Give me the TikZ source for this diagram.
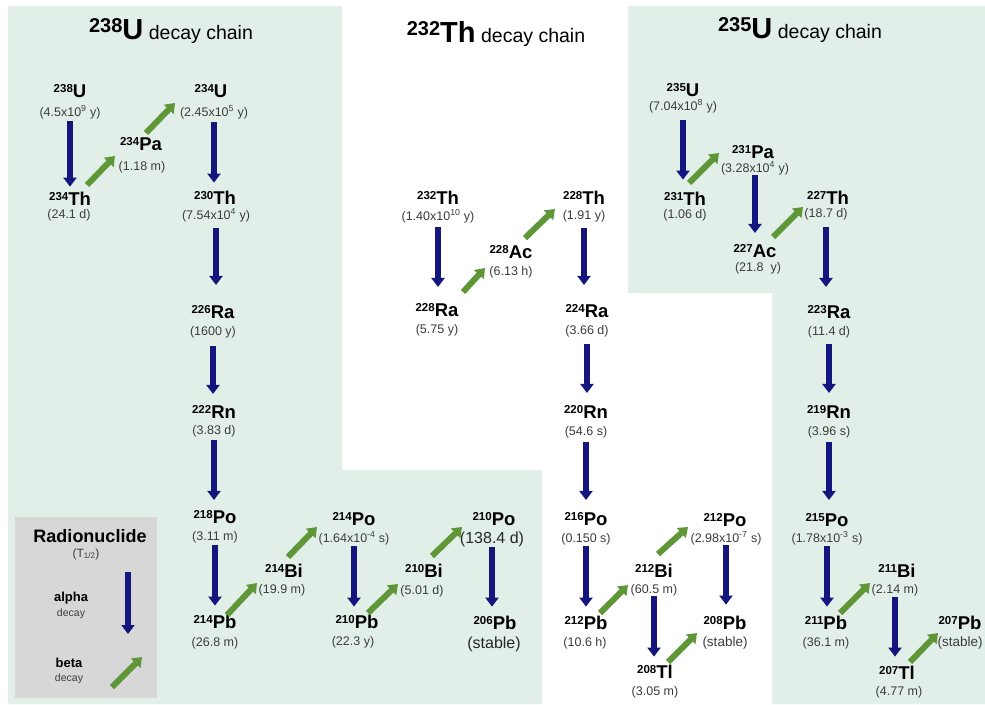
\documentclass[tikz,border=0pt]{standalone}
\usepackage{fontspec}
\setmainfont{Liberation Sans}
\usetikzlibrary{arrows.meta,calc}
\definecolor{bggreen}{RGB}{226,239,232}
\definecolor{leggray}{RGB}{215,215,215}
\definecolor{navyarr}{RGB}{20,22,125}
\definecolor{betagreen}{RGB}{95,150,55}
\definecolor{hlgray}{RGB}{60,60,60}
\newcommand\nucl[2]{\raisebox{5pt}{\fontsize{11.5}{12}\selectfont #1}#2}
\newcommand\ttlnuc[2]{\raisebox{6.5pt}{\fontsize{20}{20}\selectfont\bfseries #1}{\fontsize{29}{29}\selectfont\bfseries #2}}
\newcommand\alp[4]{\draw[alphaarr,shorten <=#3pt,shorten >=#4pt] (#1.south) -- (#1.south |- #2.north);}
\newcommand\bet[6]{\draw[betaarr] ($(#1.base)+(#2,#3)$) -- ($(#4.base)+(#5,#6)$);}
\begin{document}
\begin{tikzpicture}[x=1pt,y=-1pt,
 sym/.style={anchor=base,inner sep=0pt,font=\fontsize{18.5}{20}\selectfont\bfseries},
 hl/.style={anchor=base,inner sep=0pt,text=hlgray,font=\fontsize{12.5}{14}\selectfont},
 hlbig/.style={anchor=base,inner sep=0pt,text=black!85,font=\fontsize{16}{18}\selectfont},
 hlmid/.style={anchor=base,inner sep=0pt,text=hlgray,font=\fontsize{13.5}{15}\selectfont},
 alphaarr/.style={draw=navyarr,line width=6pt,-{Triangle[width=13pt,length=9pt]}},
 betaarr/.style={draw=betagreen,line width=6pt,-{Triangle[width=13pt,length=9pt]}},
 ttl/.style={anchor=base,inner sep=0pt,font=\fontsize{19.5}{20}\selectfont},
 legb/.style={anchor=base,inner sep=0pt,font=\fontsize{13}{14}\selectfont\bfseries},
 legd/.style={anchor=base,inner sep=0pt,text=hlgray,font=\fontsize{10.5}{12}\selectfont}
]
\useasboundingbox (0,0) rectangle (985,704);
\fill[white] (0,0) rectangle (985,704);
\fill[bggreen] (8,6) -- (342,6) -- (342,470) -- (542,470) -- (542,704) -- (8,704) -- cycle;
\fill[bggreen] (628,6) -- (985,6) -- (985,704) -- (772,704) -- (772,293) -- (628,293) -- cycle;
\fill[leggray] (15,517) rectangle (157,698);

% titles
\node[ttl] (t238) at (171,39) {\ttlnuc{238}{U} decay chain};
\node[ttl] (t232) at (496,42) {\ttlnuc{232}{Th} decay chain};
\node[ttl] (t235) at (800,38) {\ttlnuc{235}{U} decay chain};

% ---- 238U chain
\node[sym] (U238) at (70,97) {\nucl{238}{U}};
\node[hl] (U238h) at (70,116) {(4.5x10\textsuperscript{9} y)};
\node[sym] (Th234) at (70,205) {\nucl{234}{Th}};
\node[hl] (Th234h) at (69,218) {(24.1 d)};
\node[sym] (Pa234) at (141,150) {\nucl{234}{Pa}};
\node[hl] (Pa234h) at (142,170) {(1.18 m)};
\node[sym] (U234) at (211,97) {\nucl{234}{U}};
\node[hl] (U234h) at (214,116) {(2.45x10\textsuperscript{5} y)};
\node[sym] (Th230) at (215,204) {\nucl{230}{Th}};
\node[hl] (Th230h) at (216,219) {(7.54x10\textsuperscript{4} y)};
\node[sym] (Ra226) at (213,318) {\nucl{226}{Ra}};
\node[hl] (Ra226h) at (213,335) {(1600 y)};
\node[sym] (Rn222) at (214,418) {\nucl{222}{Rn}};
\node[hl] (Rn222h) at (214,434) {(3.83 d)};
\node[sym] (Po218) at (215,523) {\nucl{218}{Po}};
\node[hl] (Po218h) at (215,540) {(3.11 m)};
\node[sym] (Pb214) at (215,628) {\nucl{214}{Pb}};
\node[hl] (Pb214h) at (215,646) {(26.8 m)};
\node[sym] (Bi214) at (284,577) {\nucl{214}{Bi}};
\node[hl] (Bi214h) at (282,593) {(19.9 m)};
\node[sym] (Po214) at (354,525) {\nucl{214}{Po}};
\node[hl] (Po214h) at (354,542) {(1.64x10\textsuperscript{-4} s)};
\node[sym] (Pb210) at (357,628) {\nucl{210}{Pb}};
\node[hl] (Pb210h) at (353,645) {(22.3 y)};
\node[sym] (Bi210) at (424,577) {\nucl{210}{Bi}};
\node[hl] (Bi210h) at (422,594) {(5.01 d)};
\node[sym] (Po210) at (494,525) {\nucl{210}{Po}};
\node[hlbig] (Po210h) at (492,543) {(138.4 d)};
\node[sym] (Pb206) at (495,629) {\nucl{206}{Pb}};
\node[hlbig] (Pb206h) at (494,648) {(stable)};

\alp{U238h}{Th234}{2.4}{4.8}
\alp{U234h}{Th230}{3.4}{7.8}
\alp{Th230h}{Ra226}{6.4}{19.8}
\alp{Ra226h}{Rn222}{8.4}{10.8}
\alp{Rn222h}{Po218}{3.4}{9.8}
\alp{Po218h}{Pb214}{2.4}{8.8}
\alp{Po214h}{Pb210}{1.4}{7.8}
\alp{Po210h}{Pb206}{0.6}{8.8}
\bet{Th234}{17}{-20}{Pa234h}{-27}{-14}
\bet{Pa234}{5}{-17}{U234h}{-39}{-13}
\bet{Pb214}{12}{-13}{Bi214h}{-25}{-10}
\bet{Bi214}{4}{-20}{Po214h}{-37}{-15}
\bet{Pb210}{11}{-15}{Bi210h}{-24}{-10}
\bet{Bi210}{8}{-21}{Po210h}{-30}{-16}

% ---- 232Th chain
\node[sym] (Th232) at (438,204) {\nucl{232}{Th}};
\node[hl] (Th232h) at (438,220) {(1.40x10\textsuperscript{10} y)};
\node[sym] (Ra228) at (437,316) {\nucl{228}{Ra}};
\node[hl] (Ra228h) at (437,333) {(5.75 y)};
\node[sym] (Ac228) at (511,258) {\nucl{228}{Ac}};
\node[hl] (Ac228h) at (511,275) {(6.13 h)};
\node[sym] (Th228) at (584,204) {\nucl{228}{Th}};
\node[hl] (Th228h) at (584,219) {(1.91 y)};
\node[sym] (Ra224) at (587,317) {\nucl{224}{Ra}};
\node[hl] (Ra224h) at (587,334) {(3.66 d)};
\node[sym] (Rn220) at (586,418) {\nucl{220}{Rn}};
\node[hl] (Rn220h) at (586,435) {(54.6 s)};
\node[sym] (Po216) at (586,525) {\nucl{216}{Po}};
\node[hl] (Po216h) at (586,542) {(0.150 s)};
\node[sym] (Pb212) at (586,629) {\nucl{212}{Pb}};
\node[hl] (Pb212h) at (585,646) {(10.6 h)};
\node[sym] (Bi212) at (654,577) {\nucl{212}{Bi}};
\node[hl] (Bi212h) at (654,593) {(60.5 m)};
\node[sym] (Po212) at (725,526) {\nucl{212}{Po}};
\node[hl] (Po212h) at (726,542) {(2.98x10\textsuperscript{-7} s)};
\node[sym] (Pb208) at (725,629) {\nucl{208}{Pb}};
\node[hlmid] (Pb208h) at (725,646) {(stable)};
\node[sym] (Tl208) at (655,678) {\nucl{208}{Tl}};
\node[hl] (Tl208h) at (655,695) {(3.05 m)};

\alp{Th232h}{Ra228}{4.4}{15.8}
\alp{Th228h}{Ra224}{6.4}{18.8}
\alp{Ra224h}{Rn220}{7.4}{11.8}
\alp{Rn220h}{Po216}{4.4}{11.8}
\alp{Po216h}{Pb212}{1.4}{8.8}
\alp{Po212h}{Pb208}{0.4}{10.8}
\alp{Bi212h}{Tl208}{0.4}{7.8}
\bet{Ra228}{26}{-24}{Ac228h}{-26}{-7}
\bet{Ac228}{14}{-20}{Th228h}{-29}{-10}
\bet{Pb212}{14}{-16}{Bi212h}{-26}{-8}
\bet{Bi212}{4}{-23}{Po212h}{-38}{-15}
\bet{Tl208}{13}{-16}{Pb208h}{-28}{-13}

% ---- 235U chain
\node[sym] (U235) at (683,96) {\nucl{235}{U}};
\node[hl] (U235h) at (683,110) {(7.04x10\textsuperscript{8} y)};
\node[sym] (Th231) at (685,205) {\nucl{231}{Th}};
\node[hl] (Th231h) at (685,218) {(1.06 d)};
\node[sym] (Pa231) at (753,158) {\nucl{231}{Pa}};
\node[hl] (Pa231h) at (755,172) {(3.28x10\textsuperscript{4} y)};
\node[sym] (Th227) at (828,204) {\nucl{227}{Th}};
\node[hl] (Th227h) at (826,217) {(18.7 d)};
\node[sym] (Ac227) at (755,257) {\nucl{227}{Ac}};
\node[hl] (Ac227h) at (758,271) {(21.8\ \ y)};
\node[sym] (Ra223) at (829,318) {\nucl{223}{Ra}};
\node[hl] (Ra223h) at (829,335) {(11.4 d)};
\node[sym] (Rn219) at (829,418) {\nucl{219}{Rn}};
\node[hl] (Rn219h) at (829,435) {(3.96 s)};
\node[sym] (Po215) at (827,526) {\nucl{215}{Po}};
\node[hl] (Po215h) at (827,542) {(1.78x10\textsuperscript{-3} s)};
\node[sym] (Pb211) at (826,629) {\nucl{211}{Pb}};
\node[hl] (Pb211h) at (826,646) {(36.1 m)};
\node[sym] (Bi211) at (897,577) {\nucl{211}{Bi}};
\node[hl] (Bi211h) at (895,593) {(2.14 m)};
\node[sym] (Tl207) at (897,679) {\nucl{207}{Tl}};
\node[hl] (Tl207h) at (899,695) {(4.77 m)};
\node[sym] (Pb207) at (960,629) {\nucl{207}{Pb}};
\node[hlmid] (Pb207h) at (960,646) {(stable)};

\alp{U235h}{Th231}{7.4}{11.8}
\alp{Pa231h}{Ac227}{0.2}{10.8}
\alp{Th227h}{Ra223}{7.4}{17.8}
\alp{Ra223h}{Rn219}{6.4}{11.8}
\alp{Rn219h}{Po215}{4.4}{12.8}
\alp{Po215h}{Pb211}{1.4}{8.8}
\alp{Bi211h}{Tl207}{1.4}{8.8}
\bet{Th231}{4}{-22}{Pa231h}{-36}{-19}
\bet{Ac227}{18}{-20}{Th227h}{-23}{-10}
\bet{Pb211}{14}{-16}{Bi211h}{-25}{-10}
\bet{Tl207}{13}{-17}{Pb207h}{-22}{-13}

% ---- legend
\node[anchor=base,inner sep=0pt,font=\fontsize{18}{20}\selectfont\bfseries] (lrad) at (90,542) {Radionuclide};
\node[anchor=base,inner sep=0pt,text=hlgray,font=\fontsize{12}{14}\selectfont] (lthalf) at (86,557) {(T\textsubscript{1/2})};
\node[legb] (lalpha) at (71,601) {alpha};
\node[legd] (ldec1) at (71,616) {decay};
\node[legb] (lbeta) at (69,667) {beta};
\node[legd] (ldec2) at (69,681) {decay};
\coordinate (la1) at (128,572);
\coordinate (la2) at (128,634);
\coordinate (lb1) at (112,687);
\coordinate (lb2) at (142,657);
\draw[alphaarr] (la1) -- (la2);
\draw[betaarr] (lb1) -- (lb2);
\end{tikzpicture}
\end{document}
